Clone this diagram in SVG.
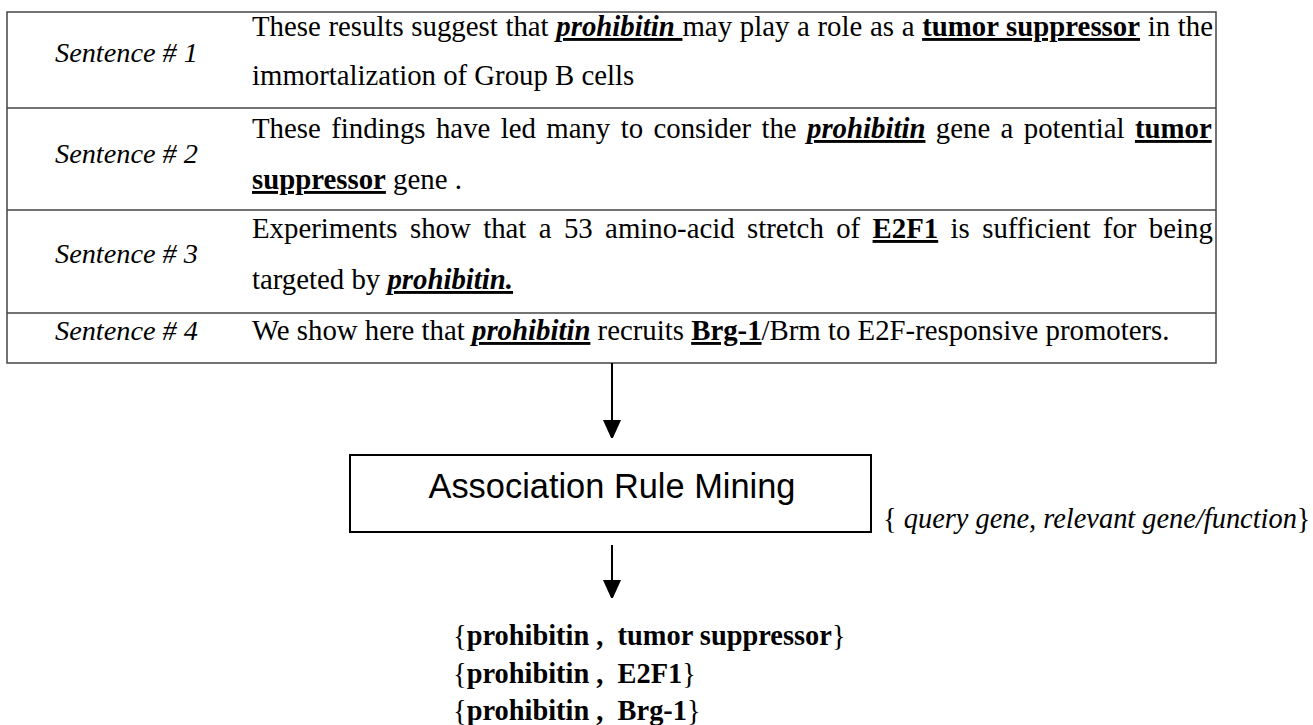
<svg xmlns="http://www.w3.org/2000/svg" width="1313" height="725" viewBox="0 0 1313 725">
<style>
.t{font-family:"Liberation Serif",serif;font-size:28.8px;fill:#000}
.lbl{font-family:"Liberation Serif",serif;font-size:28.3px;font-style:italic;fill:#000}
.bi{font-weight:bold;font-style:italic;text-decoration:underline}
.b{font-weight:bold;text-decoration:underline}
.grid{stroke:#444;stroke-width:1.5;fill:none}
.conn{stroke:#000;stroke-width:2;fill:none}
.box{fill:#fff;stroke:#000;stroke-width:2}
.arm{font-family:"Liberation Sans",sans-serif;font-size:34.4px;fill:#000}
.res{font-family:"Liberation Serif",serif;font-size:28.4px;font-weight:bold;fill:#000}
.pl{font-family:"Liberation Serif",serif;font-size:28.4px;fill:#000}
.br{font-weight:normal}
</style>
<defs>
<marker id="ah" markerWidth="18" markerHeight="22" refX="18" refY="9" orient="auto" markerUnits="userSpaceOnUse">
<path d="M0,0 L20,9 L0,18 z" fill="#000"/>
</marker>
</defs>
<g id="table">
<rect class="grid" x="7" y="12" width="1209" height="351"/>
<line class="grid" x1="7" y1="108" x2="1216" y2="108"/>
<line class="grid" x1="7" y1="210" x2="1216" y2="210"/>
<line class="grid" x1="7" y1="313" x2="1216" y2="313"/>
</g>
<g id="row1">
<text class="lbl" x="55" y="62">Sentence # 1</text>
<text class="t" x="252" y="36" word-spacing="0.5">These results suggest that <tspan class="bi">prohibitin </tspan>may play a role as a <tspan class="b">tumor suppressor</tspan> in the</text>
<text class="t" x="252" y="85">immortalization of Group B cells</text>
</g>
<g id="row2">
<text class="lbl" x="55" y="163">Sentence # 2</text>
<text class="t" x="252" y="138" word-spacing="3.2">These findings have led many to consider the <tspan class="bi">prohibitin</tspan> gene a potential <tspan class="b">tumor</tspan></text>
<text class="t" x="252" y="189"><tspan class="b">suppressor</tspan> gene .</text>
</g>
<g id="row3">
<text class="lbl" x="55" y="263">Sentence # 3</text>
<text class="t" x="252" y="238" word-spacing="5.2">Experiments show that a 53 amino-acid stretch of <tspan class="b">E2F1</tspan> is sufficient for being</text>
<text class="t" x="252" y="289">targeted by <tspan class="bi">prohibitin.</tspan></text>
</g>
<g id="row4">
<text class="lbl" x="55" y="340">Sentence # 4</text>
<text class="t" x="252" y="340">We show here that <tspan class="bi">prohibitin</tspan> recruits <tspan class="b">Brg-1</tspan>/Brm to E2F-responsive promoters.</text>
</g>
<g id="connectors">
<line class="conn" x1="612" y1="363" x2="612" y2="438" marker-end="url(#ah)"/>
<line class="conn" x1="612" y1="545" x2="612" y2="598" marker-end="url(#ah)"/>
</g>
<g id="arm">
<rect class="box" x="350" y="455" width="521" height="77"/>
<text class="arm" x="612" y="498" text-anchor="middle">Association Rule Mining</text>
</g>
<g id="pair-label">
<text class="pl" x="883" y="528">{ <tspan font-style="italic">query gene, relevant gene/function</tspan>}</text>
</g>
<g id="results">
<text class="res" x="453" y="645"><tspan class="br">{</tspan>prohibitin ,&#160; tumor suppressor<tspan class="br">}</tspan></text>
<text class="res" x="453" y="683"><tspan class="br">{</tspan>prohibitin ,&#160; E2F1<tspan class="br">}</tspan></text>
<text class="res" x="453" y="720"><tspan class="br">{</tspan>prohibitin ,&#160; Brg-1<tspan class="br">}</tspan></text>
</g>
</svg>
